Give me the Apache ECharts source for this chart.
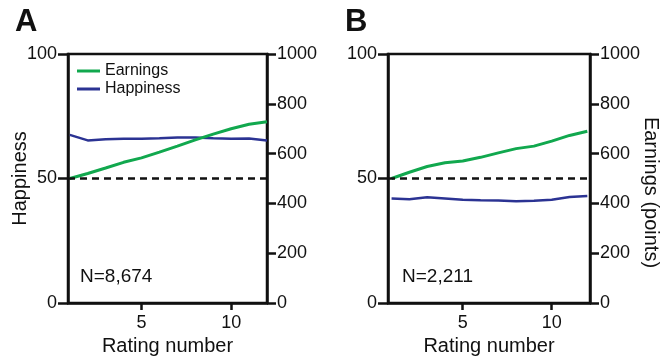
<!DOCTYPE html>
<html>
<head>
<meta charset="utf-8">
<script src="https://cdn.jsdelivr.net/npm/echarts@6/dist/echarts.min.js"></script>
<style>
  html, body { margin: 0; padding: 0; background: #fff; }
  #chart { width: 660px; height: 358px; }
</style>
</head>
<body>
<div id="chart"></div>
<script>
// rating number 1..12
const ratings = [1, 2, 3, 4, 5, 6, 7, 8, 9, 10, 11, 12];
// panel A (N=8,674)
const earningsA = [500, 520, 542, 565, 583, 606, 630, 655, 678, 700, 718, 728];
const happinessA = [67.5, 65.3, 65.8, 66.0, 66.0, 66.2, 66.5, 66.5, 66.2, 66.0, 66.1, 65.3];
// panel B (N=2,211)
const earningsB = [500, 525, 548, 563, 570, 585, 603, 620, 630, 650, 673, 690];
const happinessB = [42.0, 41.7, 42.5, 42.0, 41.5, 41.3, 41.2, 40.9, 41.1, 41.5, 42.6, 43.0];
const xTicks = [5, 10];
const panelLabels = ["A", "B"];
const nLabels = ["N=8,674", "N=2,211"];

const GREEN = "#11a84e";
const BLUE = "#2b3393";
const FONT = "Liberation Sans, Arial, sans-serif";

const pairs = (vals) => ratings.map((r, i) => [r, vals[i]]);

var myChart = echarts.init(document.getElementById("chart"));

const grids = [
  { left: 68, right: 393, top: 54, bottom: 55 },
  { left: 388, right: 70, top: 54, bottom: 55 },
];

const xAxis = grids.map((g, i) => ({
  type: "value",
  gridIndex: i,
  min: i === 0 ? 0.9 : 0.8,
  max: i === 0 ? 12 : 12.15,
  name: "Rating number",
  nameLocation: "middle",
  nameGap: 33,
  nameMoveOverlap: false,
  nameTextStyle: { fontFamily: FONT, fontSize: 20, color: "#111" },
  axisLine: { show: true, lineStyle: { color: "#111", width: 2.5 } },
  splitLine: { show: false },
  axisTick: {
    show: true,
    customValues: xTicks,
    length: 7,
    lineStyle: { color: "#111", width: 2.5 },
  },
  axisLabel: {
    customValues: xTicks,
    fontFamily: FONT,
    fontSize: 18,
    color: "#111",
    margin: 11,
  },
}));

const yAxis = [];
grids.forEach((g, i) => {
  yAxis.push({
    type: "value",
    gridIndex: i,
    position: "left",
    min: 0,
    max: 100,
    interval: 50,
    name: i === 0 ? "Happiness" : "",
    nameLocation: "middle",
    nameGap: 38,
    nameMoveOverlap: false,
    nameTextStyle: { fontFamily: FONT, fontSize: 20, color: "#111" },
    axisLine: { show: true, lineStyle: { color: "#111", width: 2.5 } },
    axisTick: { length: 10, lineStyle: { color: "#111", width: 2.5 } },
    splitLine: { show: false },
    axisLabel: { fontFamily: FONT, fontSize: 18, color: "#111", margin: 11 },
  });
  yAxis.push({
    type: "value",
    gridIndex: i,
    position: "right",
    min: 0,
    max: 1000,
    interval: 200,
    name: i === 1 ? "Earnings (points)" : "",
    nameLocation: "middle",
    nameRotate: -90,
    nameGap: 51,
    nameMoveOverlap: false,
    nameTextStyle: { fontFamily: FONT, fontSize: 20, color: "#111", padding: [0, 0, 0, 28] },
    axisLine: { show: true, lineStyle: { color: "#111", width: 2.5 } },
    axisTick: { length: 9, lineStyle: { color: "#111", width: 2.5 } },
    splitLine: { show: false },
    axisLabel: {
      fontFamily: FONT,
      fontSize: 18,
      color: "#111",
      margin: 10,
      formatter: (v) => String(v),
    },
  });
});

const dashed = {
  silent: true,
  symbol: "none",
  label: { show: false },
  lineStyle: { color: "#111", type: [7, 5], width: 2.5 },
  data: [{ yAxis: 50 }],
};

const series = [];
[[earningsA, happinessA], [earningsB, happinessB]].forEach(([earn, happy], i) => {
  series.push({
    name: "Happiness",
    type: "line",
    xAxisIndex: i,
    yAxisIndex: i * 2,
    data: pairs(happy),
    showSymbol: false,
    color: BLUE,
    lineStyle: { width: 2.5, color: BLUE },
    markLine: dashed,
    z: 2,
  });
  series.push({
    name: "Earnings",
    type: "line",
    xAxisIndex: i,
    yAxisIndex: i * 2 + 1,
    data: pairs(earn),
    showSymbol: false,
    color: GREEN,
    lineStyle: { width: 3, color: GREEN },
    z: 3,
  });
});

myChart.setOption({
  animation: false,
  backgroundColor: "#fff",
  grid: grids.map((g) => ({
    ...g,
    show: true,
    borderColor: "#111",
    borderWidth: 2.5,
    outerBoundsMode: "none",
    containLabel: false,
  })),
  xAxis,
  yAxis,
  legend: {
    data: ["Earnings", "Happiness"],
    orient: "vertical",
    left: 72,
    top: 58,
    itemWidth: 23,
    itemHeight: 3,
    itemGap: 2,
    icon: "rect",
    textStyle: { fontFamily: FONT, fontSize: 16, color: "#111" },
  },
  graphic: [
    ...panelLabels.map((t, i) => ({
      type: "text",
      left: i === 0 ? 15 : 345,
      top: 7,
      style: { text: t, font: "bold 31px " + FONT, fill: "#111" },
    })),
    ...nLabels.map((t, i) => ({
      type: "text",
      left: i === 0 ? 80 : 402,
      top: 267,
      style: { text: t, font: "19px " + FONT, fill: "#111" },
    })),
  ],
  series,
});
</script>
</body>
</html>
